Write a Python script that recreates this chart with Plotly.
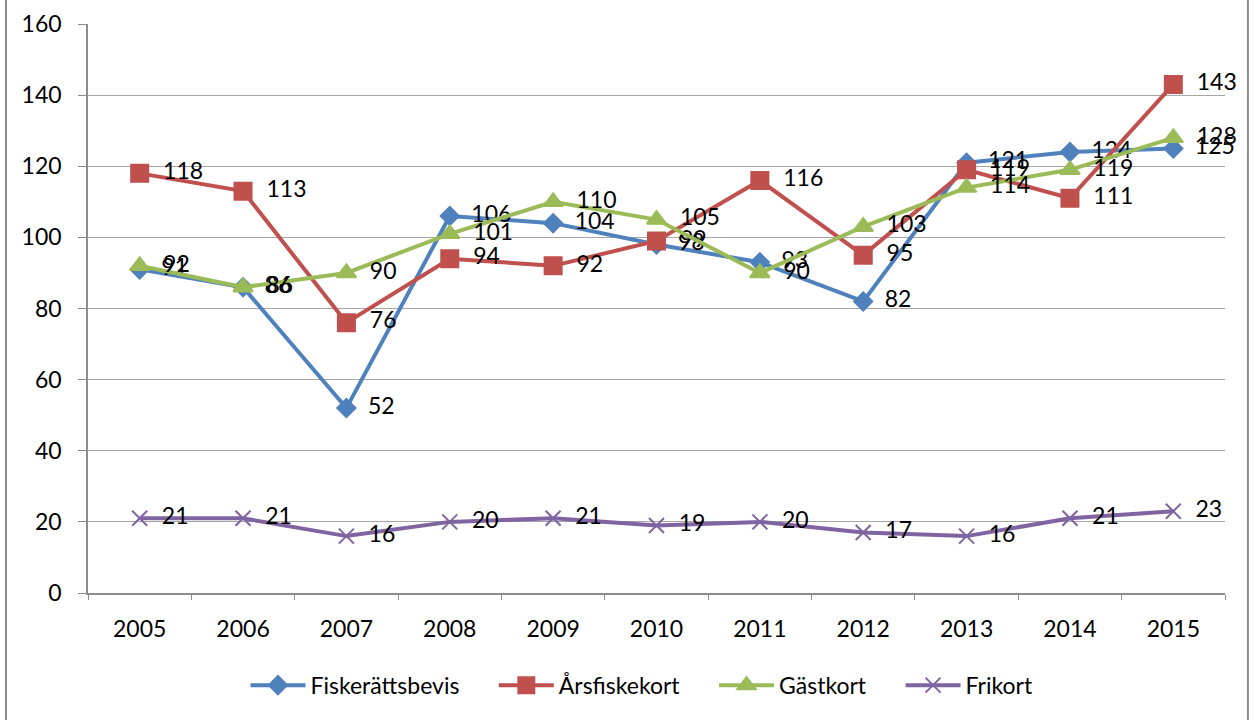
import plotly.graph_objects as go

years = ['2005', '2006', '2007', '2008', '2009', '2010', '2011', '2012', '2013', '2014', '2015']

fiskerattsbevis = [91, 86, 52, 106, 104, 98, 93, 82, 121, 124, 125]
arsfiskekort = [118, 113, 76, 94, 92, 99, 116, 95, 119, 111, 143]
gastkort = [92, 86, 90, 101, 110, 105, 90, 103, 114, 119, 128]
frikort = [21, 21, 16, 20, 21, 19, 20, 17, 16, 21, 23]

FONT = 'Lato'
NB = '\u00a0'

series = [
    ('Fiskerättsbevis', fiskerattsbevis, '#4F81BD', 'diamond', 14),
    ('Årsfiskekort', arsfiskekort, '#C0504D', 'square', 17),
    ('Gästkort', gastkort, '#9BBB59', 'triangle-up', 17),
    ('Frikort', frikort, '#8064A2', 'x-thin', 15),
]

fig = go.Figure()
for name, vals, col, sym, sz in series:
    fig.add_trace(go.Scatter(
        x=years, y=vals, name=name + NB * 5,
        mode='lines+markers+text',
        text=[NB * 2 + str(v) for v in vals],
        textposition='middle right',
        textfont=dict(family=FONT, size=23, color='black'),
        line=dict(color=col, width=4),
        marker=dict(symbol=sym, size=sz, color=col,
                    line=dict(color=col, width=2)),
        cliponaxis=False,
    ))

# outer chart frame
fig.add_shape(type='line', xref='paper', yref='paper',
              x0=-0.0721, x1=-0.0721, y0=-0.3, y1=1.1,
              line=dict(color='#8C8C8C', width=2))
fig.add_shape(type='line', xref='paper', yref='paper',
              x0=1.0202, x1=1.0202, y0=-0.3, y1=1.1,
              line=dict(color='#8C8C8C', width=2))

fig.update_layout(
    width=1254, height=720,
    margin=dict(l=88, r=29, t=24, b=127, autoexpand=False),
    paper_bgcolor='white', plot_bgcolor='white',
    font=dict(family=FONT, size=23, color='black'),
    showlegend=True,
    legend=dict(orientation='h', x=0.5, xanchor='center', y=-0.162, yanchor='middle',
                font=dict(family=FONT, size=23), itemwidth=55, tracegroupgap=0),
)
fig.update_xaxes(
    type='category', range=[-0.5, 10.5], tickson='boundaries', ticks='outside', ticklen=5,
    tickcolor='#8C8C8C', showline=True, linecolor='#8C8C8C', linewidth=1.5,
    showgrid=False, ticklabelstandoff=15, automargin=False,
)
fig.update_yaxes(
    range=[0, 160], dtick=20, ticks='outside', ticklen=8, tickcolor='#8C8C8C',
    showline=True, linecolor='#8C8C8C', linewidth=1.5,
    showgrid=True, gridcolor='#A6A6A6', gridwidth=1.2, zeroline=False,
    ticklabelstandoff=12, automargin=False,
)

# drop the default 8px page margin so the figure fills the window exactly
fig.write_html('out.html', config={'displayModeBar': False},
               post_script="document.body.style.margin='0';")
